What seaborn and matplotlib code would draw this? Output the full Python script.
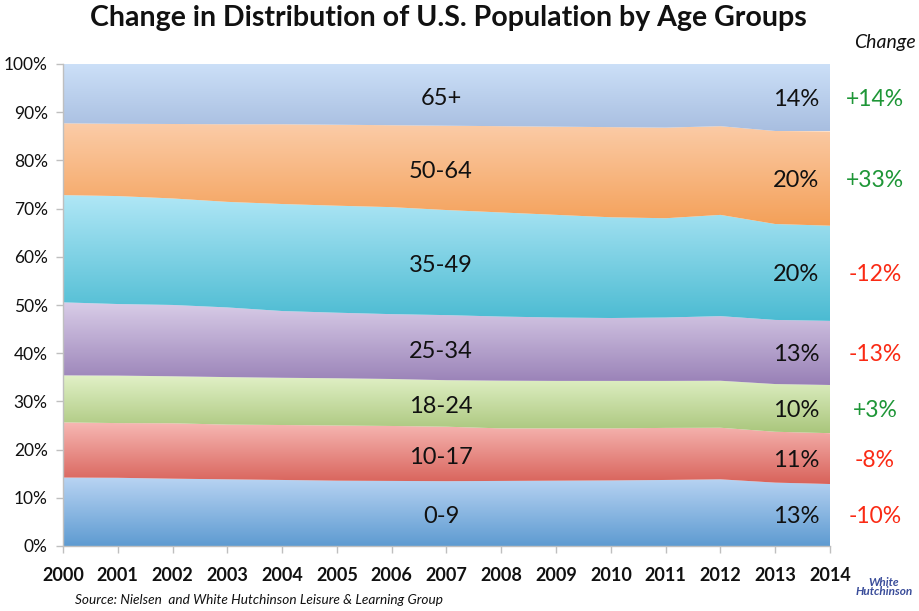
import numpy as np
import pandas as pd
import matplotlib
matplotlib.use("Agg")
import matplotlib.pyplot as plt
import seaborn as sns
from matplotlib.colors import LinearSegmentedColormap

# shares of U.S. population (%), bottom group first
years = list(range(2000, 2015))
age_0_9 = [14.2, 14.15, 13.97, 13.83, 13.7, 13.55, 13.5, 13.45, 13.5, 13.55, 13.6, 13.7, 13.83, 13.15, 12.86]
age_10_17 = [11.45, 11.35, 11.5, 11.35, 11.4, 11.45, 11.4, 11.3, 10.9, 10.85, 10.8, 10.8, 10.7, 10.55, 10.55]
age_18_24 = [9.75, 9.85, 9.75, 9.86, 9.8, 9.8, 9.75, 9.65, 9.9, 9.85, 9.85, 9.75, 9.75, 9.9, 10.0]
age_25_34 = [15.15, 14.85, 14.8, 14.45, 13.85, 13.6, 13.45, 13.5, 13.3, 13.15, 13.05, 13.15, 13.4, 13.3, 13.3]
age_35_49 = [22.25, 22.4, 22.1, 21.9, 22.2, 22.2, 22.2, 21.8, 21.6, 21.3, 20.9, 20.6, 21.0, 19.9, 19.75]
age_50_64 = [14.9, 15.0, 15.45, 16.1, 16.55, 16.8, 17.0, 17.5, 17.9, 18.3, 18.7, 18.8, 18.4, 19.3, 19.55]
age_65_up = [12.3, 12.4, 12.45, 12.5, 12.5, 12.6, 12.7, 12.8, 12.9, 13.0, 13.1, 13.2, 12.9, 13.9, 14.0]

groups = ["0-9", "10-17", "18-24", "25-34", "35-49", "50-64", "65+"]
changes = ["-10%", "-8%", "+3%", "-13%", "-12%", "+33%", "+14%"]

df = pd.DataFrame({
    "0-9": age_0_9, "10-17": age_10_17, "18-24": age_18_24, "25-34": age_25_34,
    "35-49": age_35_49, "50-64": age_50_64, "65+": age_65_up,
}, index=years)
df = df.div(df.sum(axis=1), axis=0) * 100

# (bottom colour, top colour) of each band's gradient
band_colors = [
    ("#5e9bd1", "#b9d4f3"),
    ("#d8625a", "#f7b8b4"),
    ("#a9c67c", "#e2f1c7"),
    ("#9880b6", "#d9cde8"),
    ("#4bbbd2", "#b0e7f6"),
    ("#f4a058", "#fbcca8"),
    ("#a8bee0", "#cce0f8"),
]

sns.set_theme(style="white")
plt.rcParams["font.family"] = ["Lato", "DejaVu Sans"]

fig = plt.figure(figsize=(9.2, 6.11), dpi=100)
ax = fig.add_axes([63 / 920, 65 / 611, 767 / 920, 482 / 611])

cum = df.cumsum(axis=1)
x = np.array(years, dtype=float)
grad = np.linspace(0, 1, 256).reshape(-1, 1)
lower = np.zeros(len(years))
for i, g in enumerate(groups):
    upper = cum[g].values
    poly = ax.fill_between(x, lower, upper, facecolor="none", edgecolor="none")
    cmap = LinearSegmentedColormap.from_list(g, band_colors[i])
    im = ax.imshow(grad, extent=[x[0], x[-1], lower.min(), upper.max()], origin="lower",
                   cmap=cmap, aspect="auto", zorder=1, interpolation="bilinear")
    im.set_clip_path(poly.get_paths()[0], transform=ax.transData)

    mid_07 = (lower[7] + upper[7]) / 2 - 0.7
    mid_14 = (lower[-1] + upper[-1]) / 2 - 0.3
    ax.text(2006.9, mid_07, g, ha="center", va="center", fontsize=17, color="#111111", zorder=3)
    ax.text(2013.8, mid_14, f"{df[g].iloc[-1]:.0f}%", ha="right", va="center",
            fontsize=17, color="#111111", zorder=3)
    col = "#1e9637" if changes[i].startswith("+") else "#fa2a14"
    ax.text(2014.82, mid_14, changes[i], ha="center", va="center", fontsize=16.5,
            color=col, clip_on=False)
    lower = upper

ax.text(2015.0, 104.5, "Change", ha="center", va="center", fontsize=14,
        style="italic", color="#111111", clip_on=False)

ax.set_xlim(2000, 2014)
ax.set_ylim(0, 100)
ax.set_xticks(years)
ax.set_xticklabels([str(y) for y in years], fontsize=13, fontweight="bold", color="#111111")
ax.set_yticks(range(0, 101, 10))
ax.set_yticklabels([f"{v}%" for v in range(0, 101, 10)], fontsize=12.5, color="#111111")
ax.tick_params(axis="both", direction="out", length=5, width=1, color="#bfbfbf", pad=6,
               bottom=True, left=True)
ax.tick_params(axis="x", pad=10)
sns.despine(ax=ax, top=True, right=True)
for s in ["left", "bottom"]:
    ax.spines[s].set_color("#bfbfbf")
    ax.spines[s].set_linewidth(1)
ax.grid(False)

fig.text(448 / 920, 1 - 18 / 611, "Change in Distribution of U.S. Population by Age Groups",
         ha="center", va="center", fontsize=20.5, fontweight="bold", color="#111111")
fig.text(75 / 920, 1 - 600 / 611, "Source: Nielsen  and White Hutchinson Leisure & Learning Group",
         ha="left", va="center", fontsize=9.8, style="italic", color="#111111")
fig.text(884 / 920, 1 - 587 / 611, "White\nHutchinson", ha="center", va="center", fontsize=8.5,
         style="italic", fontweight="bold", color="#3a4d9a", linespacing=0.85)

fig.savefig("out.png", dpi=100)
